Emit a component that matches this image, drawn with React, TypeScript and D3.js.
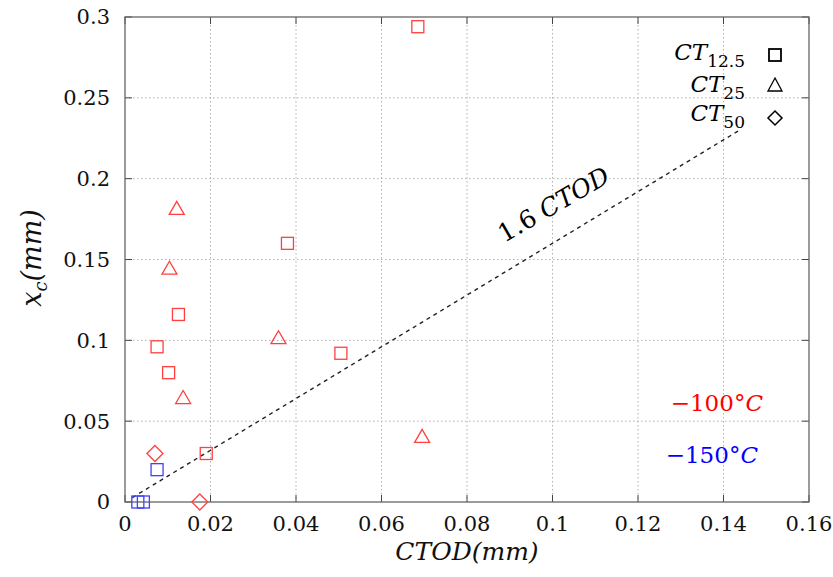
import React from 'react';
import * as d3 from 'd3';

const xTicks = [0, 0.02, 0.04, 0.06, 0.08, 0.1, 0.12, 0.14, 0.16];
const xTickLabels = ['0', '0.02', '0.04', '0.06', '0.08', '0.1', '0.12', '0.14', '0.16'];
const yTicks = [0, 0.05, 0.1, 0.15, 0.2, 0.25, 0.3];
const yTickLabels = ['0', '0.05', '0.1', '0.15', '0.2', '0.25', '0.3'];

// [CTOD, x_c]
const ct125Minus100: [number, number][] = [
  [0.0685, 0.294], [0.038, 0.160], [0.0125, 0.116], [0.0075, 0.096],
  [0.0102, 0.080], [0.0505, 0.092], [0.019, 0.030],
];
const ct125Minus150: [number, number][] = [
  [0.0075, 0.020], [0.003, 0.0], [0.0043, 0.0],
];
const ct25Minus100: [number, number][] = [
  [0.0121, 0.181], [0.0104, 0.144], [0.0136, 0.064], [0.0359, 0.101], [0.0695, 0.040],
];
const ct50Minus100: [number, number][] = [
  [0.007, 0.030], [0.0175, 0.0],
];
const fitSlope = 1.6;
const fitRange = [0.0017, 0.1435];

const RED = '#ff4040';
const BLUE = '#4040ff';

const W = 833, H = 577;
const L = 125, R = 809, T = 17, B = 502;

const SERIF = '"DejaVu Serif", serif';

export default function App() {
  const x = d3.scaleLinear().domain([0, 0.16]).range([L, R]);
  const y = d3.scaleLinear().domain([0, 0.3]).range([B, T]);
  const lineGen = d3.line<number>().x(d => x(d)).y(d => y(fitSlope * d));

  const square = (cx: number, cy: number, c: string, k: string) => (
    <rect key={k} x={cx - 6} y={cy - 6} width={12} height={12} fill="none" stroke={c} strokeWidth={1.3} />
  );
  const tri = (cx: number, cy: number, c: string, k: string) => (
    <path key={k} d={`M${cx},${cy - 8}L${cx + 7.5},${cy + 5}L${cx - 7.5},${cy + 5}Z`} fill="none" stroke={c} strokeWidth={1.3} />
  );
  const diamond = (cx: number, cy: number, c: string, k: string) => (
    <path key={k} d={`M${cx},${cy - 8}L${cx + 8},${cy}L${cx},${cy + 8}L${cx - 8},${cy}Z`} fill="none" stroke={c} strokeWidth={1.3} />
  );

  const gridStyle = { stroke: '#b0b0b0', strokeWidth: 1, strokeDasharray: '1.5,2.5' };

  return (
    <svg width={W} height={H} style={{ position: 'absolute', left: 0, top: 0, background: '#fff', fontFamily: SERIF }}>
      <rect x={0} y={0} width={W} height={H} fill="#fff" />
      {/* grid */}
      {xTicks.slice(1, -1).map((t, i) => (
        <line key={'gx' + i} x1={x(t)} x2={x(t)} y1={T} y2={B} {...gridStyle} />
      ))}
      {yTicks.slice(1, -1).map((t, i) => (
        <line key={'gy' + i} x1={L} x2={R} y1={y(t)} y2={y(t)} {...gridStyle} />
      ))}
      {/* ticks */}
      {xTicks.map((t, i) => (
        <g key={'tx' + i}>
          <line x1={x(t)} x2={x(t)} y1={B} y2={B - 7} stroke="#444" strokeWidth={1} />
          <line x1={x(t)} x2={x(t)} y1={T} y2={T + 7} stroke="#444" strokeWidth={1} />
          <text x={x(t)} y={531} textAnchor="middle" fontSize={21} fill="#111">{xTickLabels[i]}</text>
        </g>
      ))}
      {yTicks.map((t, i) => (
        <g key={'ty' + i}>
          <line x1={L} x2={L + 7} y1={y(t)} y2={y(t)} stroke="#444" strokeWidth={1} />
          <line x1={R} x2={R - 7} y1={y(t)} y2={y(t)} stroke="#444" strokeWidth={1} />
          <text x={110} y={y(t)} dy="0.35em" textAnchor="end" fontSize={21} fill="#111">{yTickLabels[i]}</text>
        </g>
      ))}
      {/* frame */}
      <rect x={L} y={T} width={R - L} height={B - T} fill="none" stroke="#666" strokeWidth={1.3} />

      {/* fit line */}
      <path d={lineGen(fitRange) || ''} fill="none" stroke="#222" strokeWidth={1.4} strokeDasharray="4,4" />
      <text transform={`translate(558,212) rotate(-30)`} textAnchor="middle" fontSize={25} fill="#000">
        1.6 <tspan fontStyle="italic">CTOD</tspan>
      </text>

      {/* data */}
      {ct125Minus100.map((d, i) => square(x(d[0]), y(d[1]), RED, 'a' + i))}
      {ct125Minus150.map((d, i) => square(x(d[0]), y(d[1]), BLUE, 'b' + i))}
      {ct25Minus100.map((d, i) => tri(x(d[0]), y(d[1]), RED, 'c' + i))}
      {ct50Minus100.map((d, i) => diamond(x(d[0]), y(d[1]), RED, 'd' + i))}

      {/* legend */}
      <text x={745} y={60} textAnchor="end" fontSize={23} fill="#000">
        <tspan fontStyle="italic">CT</tspan><tspan fontSize={17} dy={7}>12.5</tspan>
      </text>
      <text x={745} y={92} textAnchor="end" fontSize={23} fill="#000">
        <tspan fontStyle="italic">CT</tspan><tspan fontSize={17} dy={7}>25</tspan>
      </text>
      <text x={745} y={121} textAnchor="end" fontSize={23} fill="#000">
        <tspan fontStyle="italic">CT</tspan><tspan fontSize={17} dy={7}>50</tspan>
      </text>
      <rect x={769} y={49} width={12} height={12} fill="none" stroke="#000" strokeWidth={1.8} />
      <path d="M775,78L782,91L768,91Z" fill="none" stroke="#000" strokeWidth={1.3} />
      <path d="M775,111L782,118L775,125L768,118Z" fill="none" stroke="#000" strokeWidth={1.5} />

      {/* temperature labels */}
      <text x={763} y={411} textAnchor="end" fontSize={23} fill="#ff0000">
        −100°<tspan fontStyle="italic">C</tspan>
      </text>
      <text x={758} y={463} textAnchor="end" fontSize={23} fill="#0000ff">
        −150°<tspan fontStyle="italic">C</tspan>
      </text>

      {/* axis labels */}
      <text x={467} y={560} textAnchor="middle" fontSize={25} fontStyle="italic" fill="#111">
        CTOD(mm)
      </text>
      <text transform="translate(41,258) rotate(-90)" textAnchor="middle" fontSize={27} fontStyle="italic" fill="#111">
        x<tspan fontSize={18} dy={6}>c</tspan><tspan dy={-6}>(mm)</tspan>
      </text>
    </svg>
  );
}
